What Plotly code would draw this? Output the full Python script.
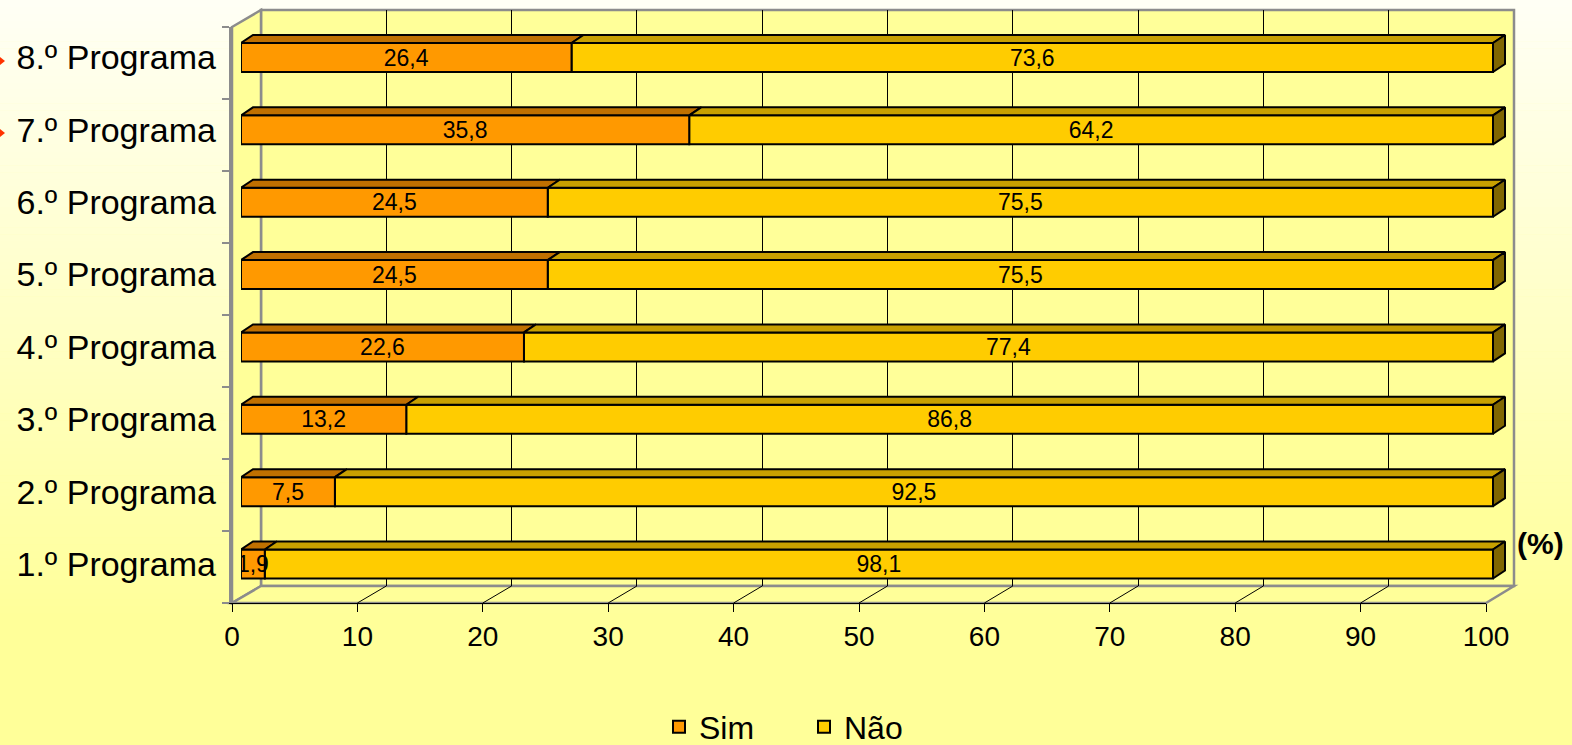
import plotly.graph_objects as go

W, H = 1572, 745

# ─── dados ────────────────────────────────────────────────────────────────
programas = ['1.º Programa', '2.º Programa', '3.º Programa', '4.º Programa',
             '5.º Programa', '6.º Programa', '7.º Programa', '8.º Programa']
sim = [1.9, 7.5, 13.2, 22.6, 24.5, 24.5, 35.8, 26.4]
nao = [98.1, 92.5, 86.8, 77.4, 75.5, 75.5, 64.2, 73.6]
ticks_x = [0, 10, 20, 30, 40, 50, 60, 70, 80, 90, 100]

COR = {
    'sim': '#FF9900', 'sim_top': '#C07000',
    'nao': '#FFCC00', 'nao_top': '#C8A000', 'nao_side': '#806600',
    'wall': '#FFFF99', 'edge': '#8C8C8C',
}
FONT = 'Liberation Sans, Arial, sans-serif'


def px(x):
    return x / W


def py(y):
    return 1 - y / H


# geometria do "3D" (pixels)
FX0, FX1, FY = 232, 1486, 603      # frente do chão
BX0, BX1, BY, TOP = 261, 1514, 586, 10   # parede do fundo
CAT_TOP = 27
BAR_X0, BAR_X1 = 241, 1493
C_TOP, C_BOT = 57.5, 564           # centro das barras 8.º e 1.º
unit_y = (C_BOT - C_TOP) / (len(programas) - 1)
unit_x = (BAR_X1 - BAR_X0) / 100
BW = 29 / unit_y
DX, DY = 12 / unit_x, 8 / unit_y
X3_RIGHT = 1530
x3_hi = (X3_RIGHT - BAR_X0) / unit_x

fmt = lambda v: f'{v:.1f}'.replace('.', ',')
pos = list(range(len(programas)))

fig = go.Figure()

# eixos vazios (grelha da parede e chão)
fig.add_trace(go.Scatter(x=[], y=[], xaxis='x', yaxis='y', showlegend=False))
fig.add_trace(go.Scatter(x=[], y=[], xaxis='x2', yaxis='y2', showlegend=False))

bar_txt = dict(textposition='inside', insidetextanchor='middle', constraintext='none',
               textangle=0, textfont=dict(size=23, color='black', family=FONT))
fig.add_trace(go.Bar(
    y=pos, x=nao, name='Não', orientation='h', xaxis='x3', yaxis='y3', base=sim,
    width=BW, marker=dict(color=COR['nao'], line=dict(color='black', width=2)),
    text=[fmt(v) for v in nao], legendrank=2, **bar_txt,
))
fig.add_trace(go.Bar(
    y=pos, x=sim, name='Sim', orientation='h', xaxis='x3', yaxis='y3',
    width=BW, marker=dict(color=COR['sim'], line=dict(color='black', width=2)),
    text=[fmt(v) for v in sim], legendrank=1, **bar_txt,
))


# faces superiores / laterais
def face_top(starts, ends):
    xs, ys = [], []
    for p, a, b in zip(pos, starts, ends):
        yt = p + BW / 2
        xs += [a, b, b + DX, a + DX, a, None]
        ys += [yt, yt, yt + DY, yt + DY, yt, None]
    return xs, ys


tot = [a + b for a, b in zip(sim, nao)]
for (xs, ys), cor in [(face_top([0] * len(sim), sim), COR['sim_top']),
                      (face_top(sim, tot), COR['nao_top'])]:
    fig.add_trace(go.Scatter(x=xs, y=ys, xaxis='x3', yaxis='y3', mode='lines',
                             fill='toself', fillcolor=cor, line=dict(color='black', width=2),
                             hoverinfo='skip', showlegend=False))

xs, ys = [], []
for p, t in zip(pos, tot):
    yb, yt = p - BW / 2, p + BW / 2
    xs += [t, t, t + DX, t + DX, t, None]
    ys += [yb, yt, yt + DY, yb + DY, yb, None]
fig.add_trace(go.Scatter(x=xs, y=ys, xaxis='x3', yaxis='y3', mode='lines',
                         fill='toself', fillcolor=COR['nao_side'], line=dict(color='black', width=2),
                         hoverinfo='skip', showlegend=False))

# fundo em degradê
shapes = []
N = 90
y_end = 620
for i in range(N):
    y0 = i * y_end / N
    y1 = (i + 1) * y_end / N + 0.5
    b = int(round(246 - (246 - 153) * (i + 0.5) / N))
    shapes.append(dict(type='rect', xref='paper', yref='paper', layer='below',
                       x0=0, x1=1, y0=py(y1), y1=py(y0),
                       fillcolor=f'rgb(255,255,{b})', line=dict(width=0)))
shapes.append(dict(type='rect', xref='paper', yref='paper', layer='below',
                   x0=0, x1=1, y0=0, y1=py(y_end), fillcolor='rgb(255,255,153)', line=dict(width=0)))


def poly(pts, fill, lc, lw):
    path = 'M ' + ' L '.join(f'{px(a)},{py(b)}' for a, b in pts) + ' Z'
    return dict(type='path', xref='paper', yref='paper', layer='below', path=path,
                fillcolor=fill, line=dict(color=lc, width=lw))


shapes.append(poly([(BX0, TOP), (BX1, TOP), (BX1, BY), (BX0, BY)], COR['wall'], COR['edge'], 2.5))
shapes.append(poly([(FX0, CAT_TOP), (BX0, TOP), (BX0, BY), (FX0, FY)], COR['wall'], COR['edge'], 2.5))
shapes.append(poly([(FX0, FY), (FX1, FY), (BX1, BY), (BX0, BY)], COR['wall'], COR['edge'], 2.5))
for k in ticks_x[1:-1]:
    fx = FX0 + (FX1 - FX0) * k / 100
    bx = BX0 + (BX1 - BX0) * k / 100
    shapes.append(dict(type='line', xref='paper', yref='paper', layer='below',
                       x0=px(fx), y0=py(FY), x1=px(bx), y1=py(BY),
                       line=dict(color='black', width=1)))

# setas vermelhas cortadas na margem
for yc in [61, 133]:
    shapes.append(dict(type='path', xref='paper', yref='paper',
                       path=f'M 0,{py(yc - 4)} L {px(5)},{py(yc)} L 0,{py(yc + 4)} Z',
                       fillcolor='#FF3300', line=dict(width=0)))

y3_lo = 0 - (H - C_BOT) / unit_y
y3_hi = (len(programas) - 1) + C_TOP / unit_y

fig.update_layout(
    width=W, height=H,
    margin=dict(l=0, r=0, t=0, b=0, pad=0, autoexpand=False),
    paper_bgcolor='rgb(255,255,153)',
    plot_bgcolor='rgba(0,0,0,0)',
    font=dict(family=FONT, color='black'),
    barmode='overlay',
    shapes=shapes,
    xaxis=dict(domain=[px(BX0), px(BX1)], range=[0, 100], tickvals=ticks_x[1:-1],
               showgrid=True, gridcolor='black', gridwidth=1, showticklabels=False,
               ticks='', zeroline=False, showline=False, anchor='y', fixedrange=True,
               automargin=False),
    yaxis=dict(domain=[py(BY), py(TOP)], range=[0, 1], showgrid=False,
               showticklabels=False, zeroline=False, anchor='x', fixedrange=True,
               automargin=False),
    xaxis2=dict(domain=[px(FX0), px(FX1)], range=[0, 100], tickvals=ticks_x,
                ticks='outside', ticklen=8, tickcolor='black', tickwidth=1,
                showline=True, linecolor='black', linewidth=1, showgrid=False,
                zeroline=False, tickfont=dict(size=28), anchor='y2', fixedrange=True,
                automargin=False),
    yaxis2=dict(domain=[py(FY), py(CAT_TOP)], range=[0, len(programas)],
                tickvals=list(range(len(programas) + 1)), ticks='outside', ticklen=7,
                tickcolor=COR['edge'], tickwidth=1.5, showline=True, linecolor=COR['edge'],
                linewidth=2.5, showgrid=False, zeroline=False, showticklabels=False,
                anchor='x2', fixedrange=True, automargin=False),
    xaxis3=dict(domain=[px(BAR_X0), px(X3_RIGHT)], range=[0, x3_hi], visible=False,
                anchor='y3', fixedrange=True, automargin=False),
    yaxis3=dict(domain=[0, 1], range=[y3_lo, y3_hi], tickvals=pos, ticktext=programas,
                showgrid=False, zeroline=False, showline=False, ticks='',
                tickfont=dict(size=34), ticklabelstandoff=24, anchor='x3', fixedrange=True,
                automargin=False),
    legend=dict(orientation='h', x=px(804), xanchor='center', y=py(727), yanchor='middle',
                font=dict(size=32), bgcolor='rgba(0,0,0,0)', entrywidth=100, itemwidth=30),
    annotations=[dict(text='<b>(%)</b>', xref='paper', yref='paper', x=px(1540), y=py(543),
                      xanchor='center', yanchor='middle', showarrow=False, font=dict(size=30))],
)

fig.write_html('out.html', config={'displayModeBar': False},
               post_script="document.body.style.margin='0';")
